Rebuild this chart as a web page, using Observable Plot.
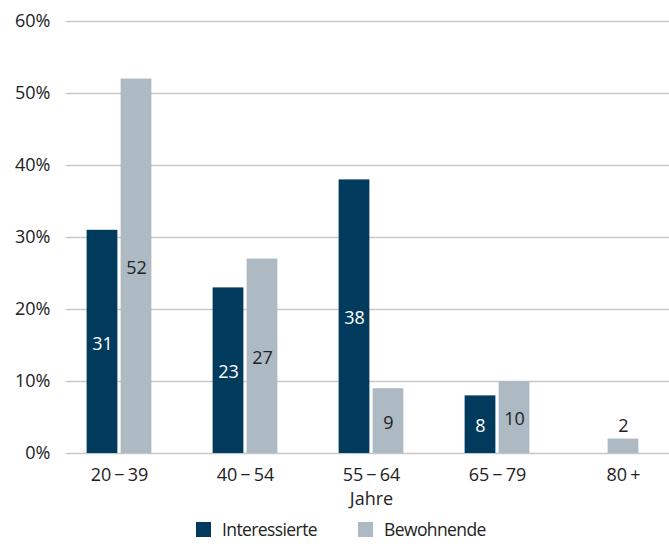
<!DOCTYPE html>
<html>
<head>
<meta charset="utf-8">
<script src="https://cdn.jsdelivr.net/npm/d3@7"></script>
<script src="https://cdn.jsdelivr.net/npm/@observablehq/plot@0.6"></script>
<style>
  body { margin: 0; background: #fff; }
  #wrap { position: relative; width: 669px; height: 549px; font-family: "Open Sans", sans-serif; color: #222; }
  .legend { position: absolute; top: 517px; display: flex; align-items: center; font-size: 17.5px; letter-spacing: -0.6px; }
  .legend .sw { width: 15px; height: 15px; margin-right: 11px; }
</style>
</head>
<body>
<div id="wrap"></div>
<script>
const groups = ["20\u2009\u2212\u200939", "40\u2009\u2212\u200954", "55\u2009\u2212\u200964", "65\u2009\u2212\u200979", "80\u2009+"];
const seriesNames = ["Interessierte", "Bewohnende"];
const interessierte = [31, 23, 38, 8, null];
const bewohnende = [52, 27, 9, 10, 2];
const yTicks = [0, 10, 20, 30, 40, 50, 60];
const colors = ["#003a5d", "#adbac4"];
const axisTitle = "Jahre";

const rows = groups.map((g, i) => ({group: g, i: interessierte[i], b: bewohnende[i]}));
const pairI = rows.filter(d => d.i != null);
const pairB = rows.filter(d => d.i != null && d.b != null);
const soloB = rows.filter(d => d.i == null && d.b != null);

const bw = 31, half = 17;
const step = 126.25;
const inset = (step - bw) / 2;

const chart = Plot.plot({
  width: 669,
  height: 510,
  marginTop: 21,
  marginBottom: 57,
  marginLeft: 66,
  marginRight: 0,
  style: {fontFamily: "Open Sans, sans-serif", fontSize: "18px", color: "#222", background: "#fff"},
  x: {type: "band", domain: groups, range: [118.5 - step / 2, 118.5 - step / 2 + step * groups.length], padding: 0},
  y: {domain: [0, 60]},
  marks: [
    Plot.gridY(yTicks, {stroke: "#c8c8c8", strokeOpacity: 1, strokeWidth: 1.5}),
    Plot.barY(pairI, {x: "group", y: "i", fill: colors[0], insetLeft: inset, insetRight: inset, dx: -half}),
    Plot.barY(pairB, {x: "group", y: "b", fill: colors[1], insetLeft: inset, insetRight: inset, dx: half}),
    Plot.barY(soloB, {x: "group", y: "b", fill: colors[1], insetLeft: inset, insetRight: inset}),
    Plot.text(pairI, {x: "group", y: d => d.i / 2, text: d => String(d.i), fill: "#fff", dx: -half, dy: 2, fontSize: 18}),
    Plot.text(pairB, {x: "group", y: d => d.b / 2, text: d => String(d.b), fill: "#222", dx: half, dy: 2, fontSize: 18}),
    Plot.text(soloB, {x: "group", y: "b", text: d => String(d.b), fill: "#222", dy: -13, fontSize: 18}),
    Plot.axisY({ticks: yTicks, tickFormat: d => d + "%", tickSize: 0, tickPadding: 16, fontSize: 18, label: null}),
    Plot.axisX({tickSize: 0, tickPadding: 15, fontSize: 18, label: null}),
    Plot.text([axisTitle], {x: () => groups[2], frameAnchor: "bottom", lineAnchor: "middle", dy: 46, fontSize: 18, fill: "#222"})
  ]
});
const wrap = document.getElementById("wrap");
wrap.appendChild(chart);

const legendPos = [196, 358];
seriesNames.forEach((name, k) => {
  const item = document.createElement("div");
  item.className = "legend";
  item.style.left = legendPos[k] + "px";
  const sw = document.createElement("span");
  sw.className = "sw";
  sw.style.background = colors[k];
  const t = document.createElement("span");
  t.textContent = name;
  item.appendChild(sw);
  item.appendChild(t);
  wrap.appendChild(item);
});
</script>
</body>
</html>
